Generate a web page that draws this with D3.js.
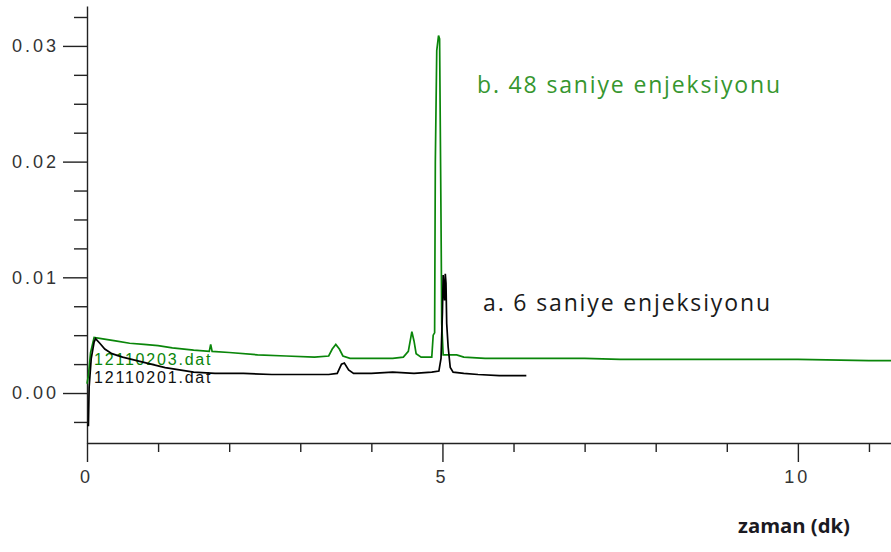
<!DOCTYPE html>
<html>
<head>
<meta charset="utf-8">
<script src="https://cdn.jsdelivr.net/npm/d3@7"></script>
<style>
  html, body { margin: 0; padding: 0; background: #fff; }
  svg { display: block; }
  .tick-label { font-family: "Liberation Sans", Arial, sans-serif; font-size: 18px; fill: #333; letter-spacing: 3px; }
  .note { font-family: "Open Sans", sans-serif; font-size: 23px; }
  .dat { font-family: "Liberation Sans", Arial, sans-serif; font-size: 16px; letter-spacing: 1.8px; }
</style>
</head>
<body>
<div id="chart"></div>
<script>
// retention time (min) and absorbance for the 6 s injection (a)
const timeA = [0, 0.02, 0.03, 0.06, 0.10, 0.12, 0.18, 0.25, 0.35, 0.5, 0.7, 0.9, 1.1, 1.3, 1.5, 1.8, 2.2, 2.6, 3.0, 3.4, 3.52, 3.58, 3.62, 3.68, 3.75, 4.0, 4.3, 4.6, 4.85, 4.95, 4.98, 5.00, 5.01, 5.03, 5.04, 5.05, 5.06, 5.08, 5.11, 5.15, 5.3, 5.5, 5.8, 6.18];
const valueA = [-0.0028, -0.0028, 0.0005, 0.0030, 0.0044, 0.0047, 0.0043, 0.0038, 0.0034, 0.0031, 0.0028, 0.0025, 0.0022, 0.0020, 0.0018, 0.0017, 0.0017, 0.0016, 0.0016, 0.0016, 0.0017, 0.0025, 0.0026, 0.0020, 0.0017, 0.0017, 0.0018, 0.0017, 0.0018, 0.0019, 0.0030, 0.0070, 0.0102, 0.0080, 0.0103, 0.0095, 0.0060, 0.0040, 0.0022, 0.0018, 0.0017, 0.0016, 0.0015, 0.0015];

// 48 s injection (b)
const timeB = [0, 0.02, 0.05, 0.1, 0.2, 0.4, 0.6, 0.8, 1.0, 1.2, 1.5, 1.72, 1.74, 1.76, 2.0, 2.4, 2.8, 3.2, 3.4, 3.45, 3.5, 3.55, 3.6, 3.7, 4.0, 4.3, 4.45, 4.52, 4.57, 4.6, 4.63, 4.7, 4.85, 4.87, 4.89, 4.90, 4.92, 4.945, 4.96, 4.98, 4.99, 5.01, 5.2, 5.3, 5.6, 6.0, 6.5, 7.0, 7.5, 8.0, 9.0, 10.0, 11.0, 11.31];
const valueB = [0.0008, 0.0015, 0.0035, 0.0048, 0.0047, 0.0045, 0.0043, 0.0042, 0.0041, 0.0039, 0.0037, 0.0036, 0.0042, 0.0036, 0.0035, 0.0033, 0.0032, 0.0031, 0.0032, 0.0038, 0.0042, 0.0038, 0.0032, 0.0030, 0.0030, 0.0030, 0.0031, 0.0036, 0.0053, 0.0045, 0.0034, 0.0031, 0.0031, 0.0050, 0.0052, 0.0200, 0.0296, 0.0309, 0.0306, 0.0150, 0.0060, 0.0033, 0.0033, 0.0031, 0.0030, 0.0030, 0.0030, 0.0030, 0.0029, 0.0029, 0.0029, 0.0029, 0.0028, 0.0028];

const xMajorTicks = [0, 5, 10];
const xMinorTicks = [1, 2, 3, 4, 6, 7, 8, 9, 11];
const yMajorTicks = [0, 0.01, 0.02, 0.03];
const yMinorTicks = [-0.0025, 0.0025, 0.005, 0.0075, 0.0125, 0.015, 0.0175, 0.0225, 0.025, 0.0275, 0.0325];

const labelB = "b. 48 saniye enjeksiyonu";
const labelA = "a. 6 saniye enjeksiyonu";
const fileB = "12110203.dat";
const fileA = "12110201.dat";
const xTitle = "zaman (dk)";

const width = 891, height = 552;
const green = "#0a860a";

const svg = d3.select("#chart").append("svg")
    .attr("width", width)
    .attr("height", height);

const x = d3.scaleLinear().domain([0, 11.31]).range([87, 891]);
const y = d3.scaleLinear().domain([-0.00432, 0.03345]).range([443, 6]);

// minor ticks first, then major axes on top
svg.append("g")
    .attr("transform", `translate(0,${y.range()[0]})`)
    .call(d3.axisBottom(x).tickValues(xMinorTicks).tickSize(9).tickFormat(""))
    .call(g => g.select(".domain").remove());

svg.append("g")
    .attr("transform", `translate(${x.range()[0]},0)`)
    .call(d3.axisLeft(y).tickValues(yMinorTicks).tickSize(13).tickFormat(""))
    .call(g => g.select(".domain").remove());

const xAxis = svg.append("g")
    .attr("transform", `translate(0,${y.range()[0]})`)
    .call(d3.axisBottom(x).tickValues(xMajorTicks).tickSize(19).tickSizeOuter(0).tickPadding(8));

const yAxis = svg.append("g")
    .attr("transform", `translate(${x.range()[0]},0)`)
    .call(d3.axisLeft(y).tickValues(yMajorTicks).tickSize(24).tickSizeOuter(0).tickPadding(4).tickFormat(d3.format(".2f")));

svg.selectAll(".tick line, .domain")
    .attr("stroke", "#222")
    .attr("stroke-width", 1.4);

xAxis.selectAll(".tick text").attr("class", "tick-label").attr("dx", "-1");
yAxis.selectAll(".tick text").attr("class", "tick-label");

const line = d3.line()
    .x(d => x(d[0]))
    .y(d => y(d[1]));

svg.append("path")
    .datum(d3.zip(timeB, valueB))
    .attr("fill", "none")
    .attr("stroke", green)
    .attr("stroke-width", 1.7)
    .attr("d", line);

svg.append("text")
    .attr("class", "dat")
    .attr("x", 94).attr("y", 365)
    .attr("fill", green)
    .text(fileB);

svg.append("text")
    .attr("class", "dat")
    .attr("x", 94).attr("y", 383)
    .attr("fill", "#111")
    .text(fileA);

svg.append("path")
    .datum(d3.zip(timeA, valueA))
    .attr("fill", "none")
    .attr("stroke", "#000")
    .attr("stroke-width", 1.7)
    .attr("d", line);

svg.append("text")
    .attr("class", "note")
    .attr("x", 477).attr("y", 93)
    .attr("textLength", 303)
    .attr("lengthAdjust", "spacing")
    .attr("fill", "#36962e")
    .text(labelB);

svg.append("text")
    .attr("class", "note")
    .attr("x", 483).attr("y", 311)
    .attr("textLength", 287)
    .attr("lengthAdjust", "spacing")
    .attr("fill", "#1a1a1a")
    .text(labelA);

svg.append("text")
    .attr("x", 738).attr("y", 533)
    .attr("textLength", 112)
    .attr("lengthAdjust", "spacingAndGlyphs")
    .attr("font-family", "'Open Sans', sans-serif")
    .attr("font-weight", "bold")
    .attr("font-size", 20)
    .attr("fill", "#1a1a22")
    .text(xTitle);
</script>
</body>
</html>
